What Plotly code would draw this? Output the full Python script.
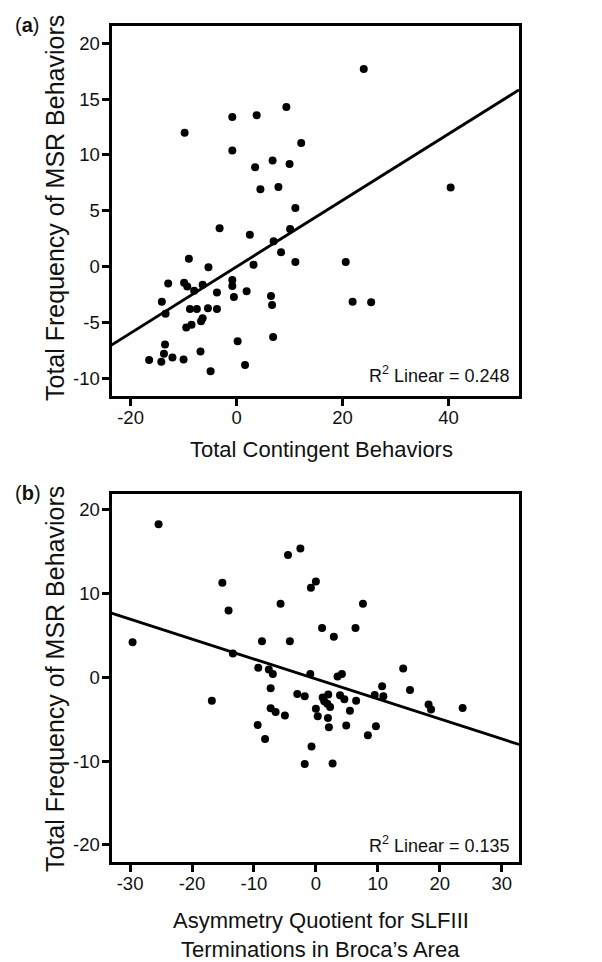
import plotly.graph_objects as go

# ---------------- Data ----------------
# Panel (a): Total Contingent Behaviors vs Total Frequency of MSR Behaviors
a_x = [24.0, 9.4, 3.8, -0.8, -9.8, 12.2, -0.8, 6.8, 10.0, 3.5,
       4.5, 7.9, 40.4, 11.1, -3.2, 2.5, 10.1, 7.0, 8.4, -9.0,
       11.1, 20.6, 3.2, -5.3, -12.9, -9.9, -9.3, -6.4, -0.8, -0.8,
       1.9, -3.7, -0.5, 6.5, -14.1, 21.9, 25.4, 6.7, -8.0, -13.4,
       -8.8, -7.5, -5.4, -3.7, -6.4, -6.7, -9.5, -8.5, -13.5, -13.7,
       -16.5, -14.2, -12.1, -10.0, -6.8, -4.9, 0.2, 1.6, 6.9]
a_y = [17.7, 14.3, 13.55, 13.4, 12.0, 11.07, 10.4, 9.5, 9.2, 8.9,
       6.93, 7.14, 7.1, 5.25, 3.45, 2.87, 3.37, 2.27, 1.3, 0.7,
       0.42, 0.42, 0.17, -0.06, -1.5, -1.43, -1.78, -1.62, -1.2, -1.72,
       -2.2, -2.3, -2.72, -2.63, -3.13, -3.13, -3.18, -3.43, -2.15, -4.22,
       -3.78, -3.78, -3.72, -3.78, -4.62, -4.88, -5.45, -5.2, -6.97, -7.8,
       -8.35, -8.5, -8.12, -8.3, -7.6, -9.35, -6.67, -8.8, -6.3]
a_fit_slope = 0.297
a_fit_intercept = 0.0
a_r2_label = "R<sup>2</sup> Linear = 0.248"
a_xticks = [-20, 0, 20, 40]
a_xticklabels = ["-20", "0", "20", "40"]
a_yticks = [-10, -5, 0, 5, 10, 15, 20]
a_yticklabels = ["-10", "-5", "0", "5", "10", "15", "20"]

# Panel (b): Asymmetry Quotient vs Total Frequency of MSR Behaviors
b_x = [-25.4, -29.6, -2.5, -4.5, -15.1, 0.0, -0.8, -14.1, -5.7, 7.6,
       1.0, 6.4, 2.9, -8.7, -4.2, -13.4, -9.3, -7.6, -6.95, -0.9,
       3.5, 4.2, 14.1, 10.7, 15.2, -7.3, -16.8, -3.0, -1.8, 1.1,
       2.0, 1.35, 1.85, 2.3, 3.9, 4.6, 6.5, 9.5, 10.9, 18.2,
       18.6, 23.7, -7.3, -6.5, -5.0, 0.0, 0.3, 1.95, 2.1, 5.5,
       4.9, -9.4, -8.2, 9.7, 8.4, -0.7, -1.8, 2.7]
b_y = [18.3, 4.2, 15.4, 14.6, 11.3, 11.45, 10.7, 8.0, 8.8, 8.8,
       5.9, 5.9, 4.85, 4.3, 4.3, 2.85, 1.15, 0.95, 0.4, 0.4,
       0.1, 0.4, 1.05, -1.05, -1.5, -1.3, -2.8, -2.0, -2.25, -2.4,
       -2.05, -2.85, -3.15, -3.55, -2.15, -2.6, -2.8, -2.1, -2.25, -3.25,
       -3.85, -3.67, -3.7, -4.15, -4.55, -3.75, -4.65, -4.85, -5.95, -4.0,
       -5.75, -5.7, -7.35, -5.85, -6.9, -8.25, -10.35, -10.3]
b_fit_slope = -0.2385
b_fit_intercept = -0.19
b_r2_label = "R<sup>2</sup> Linear = 0.135"
b_xticks = [-30, -20, -10, 0, 10, 20, 30]
b_xticklabels = ["-30", "-20", "-10", "0", "10", "20", "30"]
b_yticks = [-20, -10, 0, 10, 20]
b_yticklabels = ["-20", "-10", "0", "10", "20"]

a_xtitle = "Total Contingent Behaviors"
b_xtitle_lines = ["Asymmetry Quotient for SLFIII", "Terminations in Broca\u2019s Area"]
ytitle = "Total Frequency of MSR Behaviors"

# ---------------- Layout geometry (screen pixels) ----------------
PAGE_W, PAGE_H = 602, 962
OFF = 8                      # default page body margin
W, H = PAGE_W - OFF, PAGE_H - OFF
A_RANGE_X = [-23.6, 53.3]
A_RANGE_Y = [-11.53, 21.59]
B_RANGE_X = [-33.0, 32.8]
B_RANGE_Y = [-22.05, 21.9]

def px(x):
    return (x - OFF) / W

def py(y):
    return 1 - (y - OFF) / H

FONT = "Liberation Sans, Arial, sans-serif"
INK = "#111111"

fig = go.Figure()

fig.add_trace(go.Scatter(x=a_x, y=a_y, mode="markers", xaxis="x", yaxis="y",
                         marker=dict(color="black", size=8), showlegend=False))
fig.add_trace(go.Scatter(x=A_RANGE_X,
                         y=[a_fit_slope * v + a_fit_intercept for v in A_RANGE_X],
                         mode="lines", xaxis="x", yaxis="y",
                         line=dict(color="black", width=2.8), showlegend=False))
fig.add_trace(go.Scatter(x=b_x, y=b_y, mode="markers", xaxis="x2", yaxis="y2",
                         marker=dict(color="black", size=8), showlegend=False))
fig.add_trace(go.Scatter(x=B_RANGE_X,
                         y=[b_fit_slope * v + b_fit_intercept for v in B_RANGE_X],
                         mode="lines", xaxis="x2", yaxis="y2",
                         line=dict(color="black", width=2.8), showlegend=False))

axis_common = dict(showline=True, linecolor="black", linewidth=3, mirror=True,
                   ticks="outside", ticklen=7, tickwidth=2.5, tickcolor="black",
                   showgrid=False, zeroline=False, tickmode="array",
                   tickfont=dict(family=FONT, size=18.5, color=INK))

XL, XR = 111.5, 519
fig.update_layout(
    width=W, height=H,
    margin=dict(l=0, r=0, t=0, b=0),
    paper_bgcolor="white", plot_bgcolor="white",
    xaxis=dict(domain=[px(XL), px(XR)], range=A_RANGE_X, anchor="y",
               tickvals=a_xticks, ticktext=a_xticklabels, ticklabelstandoff=-4,
               **axis_common),
    yaxis=dict(domain=[py(395.5), py(25.5)], range=A_RANGE_Y, anchor="x",
               tickvals=a_yticks, ticktext=a_yticklabels, ticklabelstandoff=-2,
               **axis_common),
    xaxis2=dict(domain=[px(XL), px(XR)], range=B_RANGE_X, anchor="y2",
                tickvals=b_xticks, ticktext=b_xticklabels, ticklabelstandoff=-4,
                **axis_common),
    yaxis2=dict(domain=[py(862), py(494)], range=B_RANGE_Y, anchor="x2",
                tickvals=b_yticks, ticktext=b_yticklabels, ticklabelstandoff=-2,
                **axis_common),
)

ytitle_font = dict(family=FONT, size=25, color=INK)
xtitle_font = dict(family=FONT, size=22, color=INK)
ann = []
for yc in (208, 679):
    ann.append(dict(text=ytitle, x=px(55), y=py(yc), xref="paper", yref="paper",
                    textangle=-90, showarrow=False, xanchor="center", yanchor="middle",
                    font=ytitle_font))
ann.append(dict(text=a_xtitle, x=px(321.5), y=py(449), xref="paper", yref="paper",
                showarrow=False, xanchor="center", yanchor="middle", font=xtitle_font))
for line, yc in zip(b_xtitle_lines, (920.5, 949.5)):
    ann.append(dict(text=line, x=px(320.7), y=py(yc), xref="paper", yref="paper",
                    showarrow=False, xanchor="center", yanchor="middle", font=xtitle_font))
for label, yc in ((a_r2_label, 374), (b_r2_label, 844)):
    ann.append(dict(text=label, x=px(511.5), y=py(yc), xref="paper", yref="paper",
                    showarrow=False, xanchor="right", yanchor="middle",
                    font=dict(family=FONT, size=18, color=INK)))
for label, yc in (("(<b>a</b>)", 25), ("(<b>b</b>)", 493)):
    ann.append(dict(text=label, x=px(13), y=py(yc), xref="paper", yref="paper",
                    showarrow=False, xanchor="left", yanchor="middle",
                    font=dict(family=FONT, size=20, color=INK)))
fig.update_layout(annotations=ann)

fig.write_html("out.html")
